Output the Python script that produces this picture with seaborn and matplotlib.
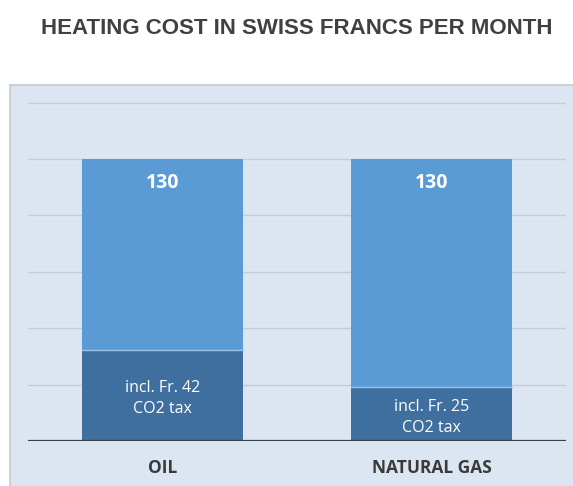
import matplotlib
matplotlib.use("Agg")
import matplotlib.pyplot as plt
import seaborn as sns
import pandas as pd
from matplotlib.patches import Rectangle

# =========================
# DATA
# =========================

categories = ["OIL", "NATURAL GAS"]
total_cost = [130, 130]
co2_tax = [42, 25]
tax_labels = ["incl. Fr. 42\nCO2 tax", "incl. Fr. 25\nCO2 tax"]
grid_ticks = [26, 52, 78, 104, 130, 156]

title = "HEATING COST IN SWISS FRANCS PER MONTH"

# =========================
# COLORS
# =========================

BOX_BG = "#dce6f2"
LIGHT = "#5b9bd5"
DARK = "#3f6f9e"
TEXT_DARK = "#3a3a3a"

df = pd.DataFrame({"fuel": categories, "total": total_cost, "tax": co2_tax})

sns.set_style("white")
plt.rcParams["font.family"] = ["Open Sans", "DejaVu Sans"]

W, H = 573, 486
fig = plt.figure(figsize=(W / 100, H / 100), dpi=100)
fig.patch.set_facecolor("white")

# light blue chart box (drawn below the axes)
box_left = 10 / W
box_top = 1 - 85 / H
fig.patches.append(Rectangle((box_left, 0), 1 - box_left, box_top,
                             transform=fig.transFigure, facecolor=BOX_BG,
                             edgecolor="none", zorder=-5))
fig.lines.append(plt.Line2D([box_left, 1], [box_top, box_top],
                            transform=fig.transFigure, color="#c8c8c8",
                            lw=1.2, zorder=-4))
fig.lines.append(plt.Line2D([box_left, box_left], [0, box_top],
                            transform=fig.transFigure, color="#c8c8c8",
                            lw=1.2, zorder=-4))

fig.text(0.518, 1 - 29 / H, title, ha="center", va="center",
         fontsize=16, fontweight="bold", color="#404040",
         family=["Liberation Sans", "DejaVu Sans"])

# axes placement in pixels
ax_left, ax_right = 28, 566
ax_bottom, ax_top = 441, 94
ax = fig.add_axes([ax_left / W, 1 - ax_bottom / H,
                   (ax_right - ax_left) / W, (ax_bottom - ax_top) / H])
ax.set_zorder(2)
ax.set_facecolor("none")

for g in grid_ticks:
    ax.axhline(g, color="#c5ccd4", lw=1.0, zorder=0)

sns.barplot(data=df, x="fuel", y="total", color=LIGHT, width=0.6,
            saturation=1, ax=ax, zorder=2, linewidth=0, edgecolor="none")
sns.barplot(data=df, x="fuel", y="tax", color=DARK, width=0.6,
            saturation=1, ax=ax, zorder=3, linewidth=0, edgecolor="none")

ax.axhline(0, color="#3a3f45", lw=1.6, zorder=4)

for i, (tot, tax, lab) in enumerate(zip(total_cost, co2_tax, tax_labels)):
    ax.text(i, tot - 11, str(tot), ha="center", va="center", color="white",
            fontsize=14, fontweight="bold", zorder=5)
    ax.text(i, tax / 2 - 1.5, lab, ha="center", va="center", color="white",
            fontsize=11.5, linespacing=1.4, zorder=5)
    # thin light line at segment boundary
    ax.plot([i - 0.3, i + 0.3], [tax, tax], color="#9cc0e6", lw=1, zorder=4)

ax.set_xlim(-0.5, 1.5)
ax.set_ylim(0, 160)
ax.set_xlabel("")
ax.set_ylabel("")
ax.set_yticks([])
ax.tick_params(axis="x", length=0, pad=13)
for t in ax.get_xticklabels():
    t.set_fontweight("bold")
    t.set_fontsize(12.5)
    t.set_color(TEXT_DARK)
for s in ax.spines.values():
    s.set_visible(False)

fig.savefig("out.png", dpi=100)
